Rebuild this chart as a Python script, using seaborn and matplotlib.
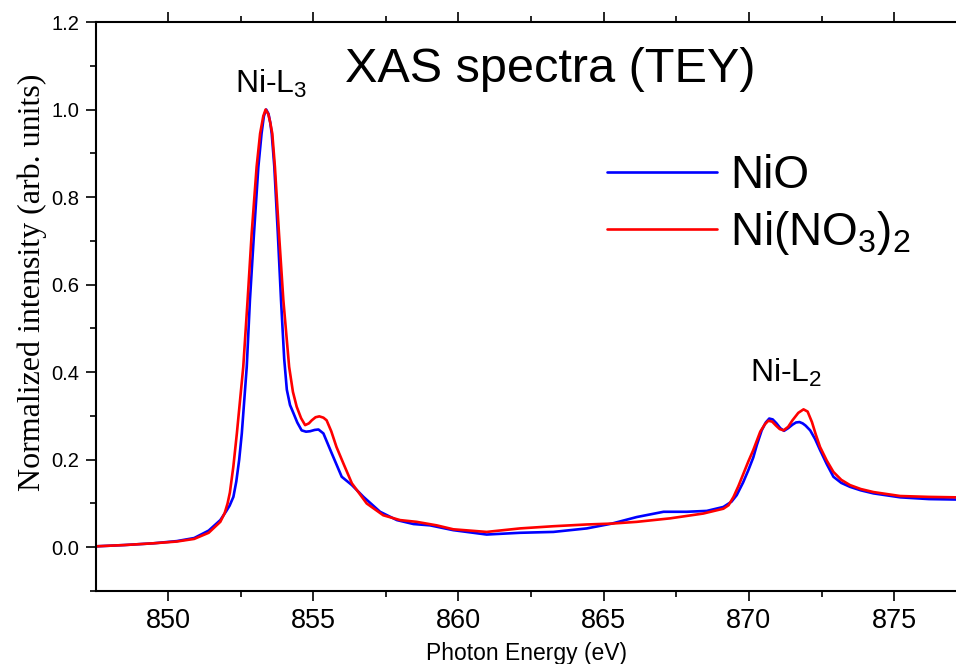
import numpy as np
import pandas as pd
import matplotlib
matplotlib.use("Agg")
import matplotlib.pyplot as plt
from matplotlib.ticker import MultipleLocator
import seaborn as sns

# ---- data ----
nio_energy = [847.5, 848.5, 849.5, 850.3, 850.9, 851.4, 851.8, 852.0, 852.12, 852.25,
              852.35, 852.45, 852.54, 852.71, 852.82, 852.96, 853.11, 853.22, 853.3,
              853.38, 853.46, 853.52, 853.57, 853.66, 853.78, 853.89, 854.0, 854.09,
              854.2, 854.32, 854.45, 854.6, 854.75, 854.89, 855.05, 855.18, 855.35,
              855.64, 855.98, 856.33, 856.73, 857.3, 857.88, 858.45, 859.02, 859.82,
              860.97, 862.12, 863.27, 864.42, 865.28, 866.14, 867.06, 867.86, 868.55,
              869.12, 869.4, 869.58, 869.8, 869.98, 870.15, 870.27, 870.44, 870.58,
              870.7, 870.82, 870.95, 871.08, 871.21, 871.35, 871.5, 871.62, 871.74,
              871.85, 871.95, 872.11, 872.28, 872.45, 872.68, 872.91, 873.18, 873.48,
              873.85, 874.29, 875.21, 876.2, 877.13]
nio_intensity = [0.002, 0.005, 0.009, 0.014, 0.021, 0.038, 0.062, 0.082, 0.095, 0.115,
                 0.15, 0.2, 0.26, 0.412, 0.565, 0.717, 0.869, 0.945, 0.985,
                 1.0, 0.99, 0.97, 0.945, 0.869, 0.717, 0.565, 0.43, 0.36,
                 0.325, 0.306, 0.285, 0.267, 0.264, 0.265, 0.268, 0.269, 0.26,
                 0.214, 0.161, 0.142, 0.115, 0.081, 0.062, 0.053, 0.050, 0.039,
                 0.029, 0.033, 0.035, 0.043, 0.054, 0.069, 0.081, 0.081, 0.083,
                 0.092, 0.104, 0.119, 0.148, 0.176, 0.205, 0.233, 0.267, 0.285,
                 0.294, 0.292, 0.283, 0.272, 0.266, 0.272, 0.280, 0.285, 0.286,
                 0.283, 0.278, 0.267, 0.247, 0.222, 0.19, 0.161, 0.147, 0.138,
                 0.13, 0.123, 0.114, 0.110, 0.109]

nitrate_energy = [847.5, 848.5, 849.5, 850.3, 850.9, 851.4, 851.8, 851.95, 852.05, 852.13,
                  852.25, 852.37, 852.59, 852.74, 852.88, 853.05, 853.17, 853.28, 853.36,
                  853.45, 853.52, 853.59, 853.68, 853.82, 853.97, 854.17, 854.3, 854.43,
                  854.58, 854.72, 854.85, 854.95, 855.08, 855.21, 855.35, 855.46, 855.62,
                  855.8, 856.04, 856.33, 856.84, 857.41, 857.99, 858.56, 859.25, 859.82,
                  860.97, 862.12, 863.27, 864.42, 865.28, 866.14, 867.29, 868.43, 869.12,
                  869.3, 869.47, 869.64, 869.81, 869.98, 870.15, 870.39, 870.55, 870.67,
                  870.8, 870.93, 871.06, 871.19, 871.35, 871.5, 871.7, 871.88, 872.02,
                  872.17, 872.3, 872.45, 872.68, 872.91, 873.18, 873.48, 873.85, 874.29,
                  875.21, 876.2, 877.13]
nitrate_intensity = [0.002, 0.005, 0.009, 0.013, 0.019, 0.033, 0.058, 0.078, 0.1, 0.125,
                     0.185, 0.26, 0.412, 0.565, 0.717, 0.869, 0.945, 0.985, 1.0,
                     0.99, 0.97, 0.945, 0.869, 0.717, 0.565, 0.412, 0.355, 0.321,
                     0.295, 0.279, 0.283, 0.290, 0.297, 0.299, 0.296, 0.290, 0.265,
                     0.229, 0.191, 0.146, 0.10, 0.073, 0.062, 0.058, 0.050, 0.041,
                     0.035, 0.043, 0.048, 0.052, 0.054, 0.058, 0.066, 0.077, 0.088,
                     0.096, 0.115, 0.14, 0.168, 0.196, 0.222, 0.264, 0.281, 0.289,
                     0.287, 0.278, 0.27, 0.267, 0.275, 0.29, 0.307, 0.315, 0.31,
                     0.286, 0.258, 0.229, 0.198, 0.172, 0.154, 0.142, 0.133, 0.126,
                     0.117, 0.115, 0.114]

series_names = ["NiO", "Ni(NO$_3$)$_2$"]
series_colors = ["#0000ff", "#ff0000"]
x_ticks = [850, 855, 860, 865, 870, 875]
y_ticks = [0.0, 0.2, 0.4, 0.6, 0.8, 1.0, 1.2]

df = pd.concat([
    pd.DataFrame({"energy": nio_energy, "intensity": nio_intensity, "sample": series_names[0]}),
    pd.DataFrame({"energy": nitrate_energy, "intensity": nitrate_intensity, "sample": series_names[1]}),
], ignore_index=True)

sns.set_theme(style="ticks")
plt.rcParams["font.family"] = ["Liberation Sans", "DejaVu Sans"]
plt.rcParams["mathtext.fontset"] = "custom"
plt.rcParams["mathtext.rm"] = "Liberation Sans"
plt.rcParams["mathtext.it"] = "Liberation Sans"
plt.rcParams["mathtext.default"] = "regular"
plt.rcParams["text.color"] = "black"
plt.rcParams["axes.labelcolor"] = "black"

W, H = 956, 664
fig = plt.figure(figsize=(W / 100, H / 100), dpi=100)
ax = fig.add_axes([96 / W, 73 / H, 1 - 96 / W, (591 - 22) / H])

sns.lineplot(data=df, x="energy", y="intensity", hue="sample",
             palette=dict(zip(series_names, series_colors)),
             estimator=None, sort=False, linewidth=1.9, ax=ax)
for line in ax.get_lines():
    line.set_solid_joinstyle("round")

ax.set_xlim(847.52, 877.13)
ax.set_ylim(-0.1, 1.2)
ax.set_xticks(x_ticks)
ax.set_yticks(y_ticks)
ax.set_yticklabels([f"{v:.1f}" for v in y_ticks])
ax.xaxis.set_minor_locator(MultipleLocator(2.5))
ax.yaxis.set_minor_locator(MultipleLocator(0.1))

for s in ["left", "bottom", "top"]:
    ax.spines[s].set_linewidth(1.5)
    ax.spines[s].set_color("black")
ax.spines["right"].set_visible(False)

ax.tick_params(axis="x", which="both", direction="out", top=True, bottom=True,
               labeltop=False, colors="black")
ax.tick_params(axis="y", which="both", direction="out", left=True, right=False, colors="black")
ax.tick_params(which="major", length=7, width=1.2)
ax.tick_params(which="minor", length=4.5, width=1.2)
ax.tick_params(axis="x", which="major", labelsize=19.5, pad=5)
ax.tick_params(axis="y", which="major", labelsize=14.5, pad=5)

ax.set_xlabel("Photon Energy (eV)", fontsize=16.5, labelpad=6)
ax.set_ylabel("Normalized intensity (arb. units)", fontsize=23,
              family=["Liberation Serif", "DejaVu Serif"], labelpad=8)
ax.yaxis.set_label_coords(-0.057, 0.543)

ax.text(856.1, 1.0635, "XAS spectra (TEY)", fontsize=35, ha="left", va="baseline")
ax.text(852.31, 1.037, "Ni-L$_3$", fontsize=23, ha="left", va="baseline")
ax.text(870.04, 0.378, "Ni-L$_2$", fontsize=23, ha="left", va="baseline")

sns.move_legend(ax, "upper left", bbox_to_anchor=(0.5938, 0.768), frameon=False,
                title=None, fontsize=33, handlelength=2.4, handletextpad=0.3,
                labelspacing=0.25, borderpad=0, borderaxespad=0)
for line in ax.get_legend().get_lines():
    line.set_linewidth(1.9)

fig.savefig("out.png", dpi=100)
